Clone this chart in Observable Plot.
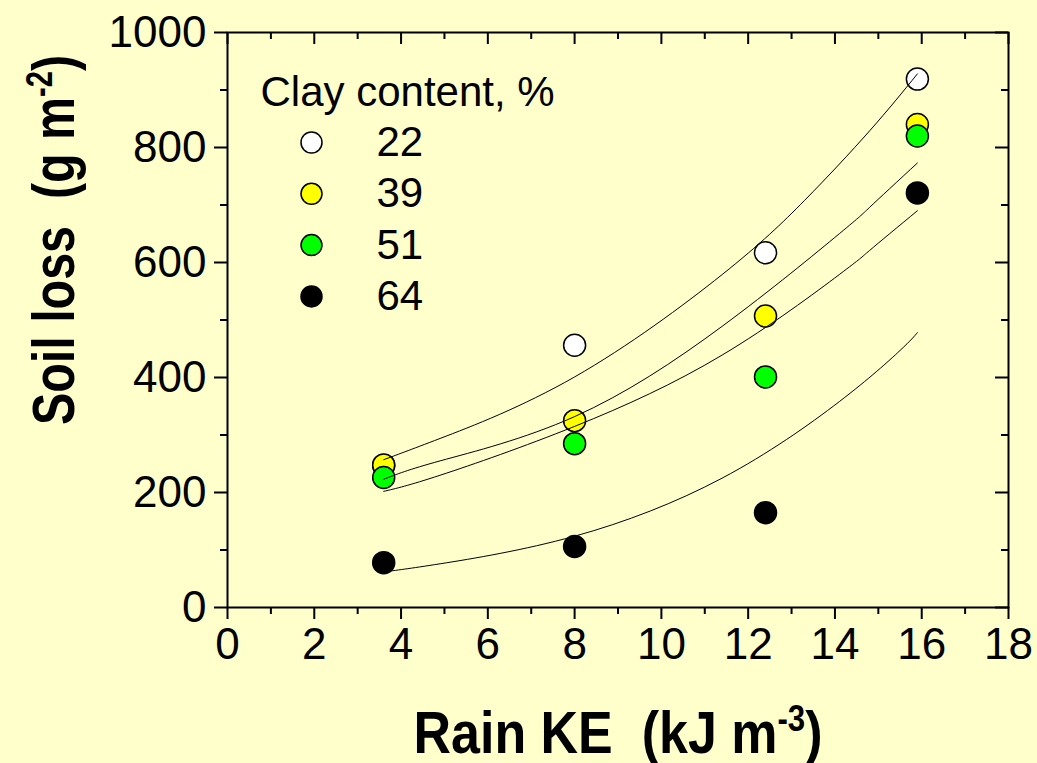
<!DOCTYPE html>
<html><head><meta charset="utf-8">
<script src="https://cdn.jsdelivr.net/npm/d3@7"></script>
<script src="https://cdn.jsdelivr.net/npm/@observablehq/plot@0.6"></script>
<style>
html,body{margin:0;padding:0;background:#FFFFCC;}
#chart{width:1037px;height:763px;}
svg text{white-space:pre;}
</style></head><body><div id="chart"></div>
<script>
// ---- data ----
const rainKE = [3.6, 8.0, 12.4, 15.9];
const clayLevels = ["22", "39", "51", "64"];
const clayColors = ["#FFFFFF", "#FFFF00", "#00FF00", "#000000"];
const loss22 = [247, 456, 617, 919];
const loss39 = [248, 325, 507, 840];
const loss51 = [226, 285, 401, 820];
const loss64 = [78, 106, 165, 721];
// fitted curves
const fitKE22 = [3.6, 4.9, 8.0, 11.4, 13.3, 14.8, 15.9];
const fit22   = [257, 294, 401, 579, 708, 829, 928];
const fitKE39 = [3.6, 4.9, 8.0, 11.4, 14.1, 14.8, 15.9];
const fit39   = [223, 255, 332, 489, 650, 696, 773];
const fitKE51 = [3.6, 4.9, 8.0, 11.4, 14.1, 14.8, 15.9];
const fit51   = [202, 230, 315, 439, 579, 621, 690];
const fitKE64 = [3.6, 4.9, 8.0, 11.4, 14.1, 15.5, 15.9];
const fit64   = [62, 76, 124, 225, 358, 447, 478];
const xTicks = [0, 2, 4, 6, 8, 10, 12, 14, 16, 18];
const xMinor = [1, 3, 5, 7, 9, 11, 13, 15, 17];
const yTicks = [0, 200, 400, 600, 800, 1000];
const yMinor = [100, 300, 500, 700, 900];
const xTitle = "Rain KE  (kJ m-3)";
const yTitle = "Soil loss  (g m-2)";
const legendTitle = "Clay content, %";

// ---- tables ----
const lossSeries = [loss22, loss39, loss51, loss64];
const fitX = [fitKE22, fitKE39, fitKE51, fitKE64];
const fitY = [fit22, fit39, fit51, fit64];
const points = clayLevels.flatMap((c, i) => rainKE.map((k, j) => ({clay: c, ke: k, loss: lossSeries[i][j]})));
const fits = clayLevels.flatMap((c, i) => fitX[i].map((k, j) => ({clay: c, ke: k, loss: fitY[i][j]})));

const W = 1037, H = 763, mL = 227, mR = 29, mT = 32, mB = 156;
const fw = W - mL - mR, fh = H - mT - mB;
const font = "'Liberation Sans', Arial, Helvetica, sans-serif";

const legendMarks = [
  Plot.text([legendTitle], {text: d => d, frameAnchor: "top-left", dx: 33, dy: 73, lineAnchor: "bottom", textAnchor: "start", fontSize: 42, fill: "black"})
];
clayLevels.forEach((c, i) => {
  legendMarks.push(Plot.dot([c], {frameAnchor: "top-left", dx: 84, dy: 110 + i * 51.3, r: 10.5, fill: d => d, stroke: "black", strokeWidth: 1.5}));
  legendMarks.push(Plot.text([c], {text: d => d, frameAnchor: "top-left", dx: 149, dy: 110 + i * 51.3, lineAnchor: "middle", textAnchor: "start", fontSize: 42, fill: "black"}));
});

const chart = Plot.plot({
  width: W, height: H,
  marginLeft: mL, marginRight: mR, marginTop: mT, marginBottom: mB,
  style: {background: "#FFFFCC", fontFamily: font, color: "black", overflow: "visible"},
  x: {domain: [0, 18]},
  y: {domain: [0, 1000]},
  color: {domain: clayLevels, range: clayColors},
  marks: [
    Plot.frame({stroke: "black", strokeWidth: 2}),
    // outward ticks bottom / left
    Plot.tickX(xTicks, {x: d => d, insetTop: fh, insetBottom: -12, stroke: "black", strokeWidth: 2}),
    Plot.tickX(xMinor, {x: d => d, insetTop: fh, insetBottom: -7, stroke: "black", strokeWidth: 2}),
    Plot.tickY(yTicks, {y: d => d, insetRight: fw, insetLeft: -13, stroke: "black", strokeWidth: 2}),
    Plot.tickY(yMinor, {y: d => d, insetRight: fw, insetLeft: -7, stroke: "black", strokeWidth: 2}),
    // inward ticks top / right
    Plot.tickX(xTicks, {x: d => d, insetBottom: fh - 12, stroke: "black", strokeWidth: 2}),
    Plot.tickX(xMinor, {x: d => d, insetBottom: fh - 7, stroke: "black", strokeWidth: 2}),
    Plot.tickY(yTicks, {y: d => d, insetLeft: fw - 13, stroke: "black", strokeWidth: 2}),
    Plot.tickY(yMinor, {y: d => d, insetLeft: fw - 7, stroke: "black", strokeWidth: 2}),
    Plot.axisX(xTicks, {anchor: "bottom", tickSize: 0, tickPadding: 20, fontSize: 44, label: null, fill: "black", tickFormat: d => String(d)}),
    Plot.axisY(yTicks, {anchor: "left", tickSize: 0, tickPadding: 21, fontSize: 44, label: null, fill: "black", tickFormat: d => String(d)}),
    // data
    Plot.dot(points, {x: "ke", y: "loss", r: 11, fill: "clay", stroke: "black", strokeWidth: 1.5}),
    Plot.line(fits, {x: "ke", y: "loss", z: "clay", curve: "natural", stroke: "black", strokeWidth: 1}),
    ...legendMarks,
    // axis titles
    Plot.text([xTitle], {text: d => d, frameAnchor: "bottom", dy: 145, lineAnchor: "bottom", textAnchor: "middle", fontSize: 60, fontWeight: "bold", fill: "black"}),
    Plot.text([yTitle], {text: d => d, frameAnchor: "left", rotate: -90, dx: -154, dy: -80, lineAnchor: "bottom", textAnchor: "middle", fontSize: 60, fontWeight: "bold", fill: "black"})
  ]
});
document.getElementById("chart").appendChild(chart);

// superscripts + condensed bold titles
function supTitle(full, base, sup, tail, len) {
  d3.select(chart).selectAll("text").filter(function () { return this.textContent === full; })
    .each(function () {
      const t = d3.select(this);
      t.text(null);
      t.append("tspan").text(base);
      t.append("tspan").attr("font-size", 36).attr("dy", -22).text(sup);
      t.append("tspan").attr("dy", 22).text(tail);
      t.attr("textLength", len).attr("lengthAdjust", "spacingAndGlyphs");
    });
}
supTitle(xTitle, "Rain KE  (kJ m", "-3", ")", 409);
supTitle(yTitle, "Soil loss  (g m", "-2", ")", 370);
</script>
</body></html>
